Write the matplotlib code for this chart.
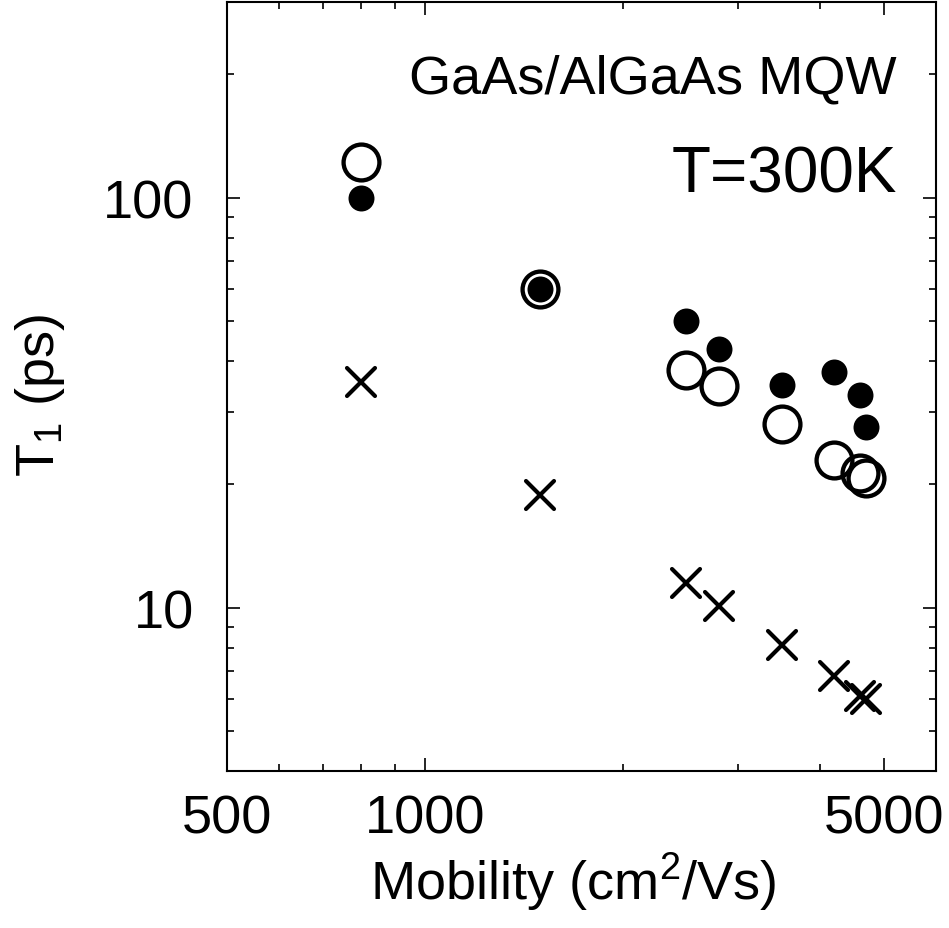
import matplotlib
matplotlib.use("Agg")
import matplotlib.pyplot as plt
from matplotlib.markers import MarkerStyle
from matplotlib.ticker import LogLocator, NullFormatter

plt.rcParams['font.family'] = ['Liberation Sans', 'DejaVu Sans']
plt.rcParams['mathtext.fontset'] = 'custom'
plt.rcParams['mathtext.rm'] = 'Liberation Sans'
plt.rcParams['mathtext.it'] = 'Liberation Sans:italic'

# Data
mobility = [800, 1500, 2500, 2800, 3500, 4200, 4600, 4700]
t1_filled = [100, 60, 50, 42.7, 35, 37.6, 33.1, 27.6]
t1_open = [122, 60, 38, 34.8, 28.1, 22.9, 21.3, 20.7]
t1_cross = [35.6, 18.9, 11.5, 10.1, 8.13, 6.82, 6.1, 5.98]

x_major = [500, 1000, 5000]
x_major_labels = ['500', '1000', '5000']
x_minor = [600, 700, 800, 900, 2000, 3000, 4000]
y_major = [10, 100]
y_major_labels = ['10', '100']

fig = plt.figure(figsize=(9.49, 9.29), dpi=100)
W, H = 949, 929
ax = fig.add_axes([227 / W, 1 - 772 / H, (936 - 227) / W, (772 - 3.3) / H])
ax.set_xscale('log')
ax.set_yscale('log')
ax.set_xlim(500, 6000)
ax.set_ylim(4, 300)

ax.plot(mobility, t1_filled, linestyle='none', marker='o', ms=18.7, mfc='black',
        mec='black', mew=0, zorder=3)
ax.plot(mobility, t1_open, linestyle='none', marker='o', ms=25.8, mfc='none',
        mec='black', mew=3.1, zorder=4)
xm = MarkerStyle('x', capstyle='round')
ax.plot(mobility, t1_cross, linestyle='none', marker=xm, ms=20.5,
        mec='black', mew=3.0, zorder=3)

ax.set_xticks(x_major)
ax.set_xticklabels(x_major_labels)
ax.set_xticks(x_minor, minor=True)
ax.set_xticklabels([], minor=True)
ax.set_yticks(y_major)
ax.set_yticklabels(y_major_labels)
ax.yaxis.set_minor_locator(LogLocator(base=10, subs=range(2, 10)))
ax.yaxis.set_minor_formatter(NullFormatter())

for s in ax.spines.values():
    s.set_linewidth(1.5)
ax.tick_params(which='both', direction='in', top=True, right=True, width=1.2)
ax.tick_params(which='major', length=9.4, labelsize=39)
ax.tick_params(which='minor', length=5)
ax.tick_params(axis='x', which='major', pad=16)
ax.tick_params(axis='y', which='major', pad=24)

fig.text(573 / W, 1 - 900 / H, r'Mobility (cm$\mathregular{^2}$/Vs)', fontsize=39,
         ha='center', va='baseline')
fig.text(40 / W, 1 - 396 / H, r'T$\mathregular{_1}$ (ps)', fontsize=39,
         ha='center', va='center', rotation=90)

ax.text((897 - 227) / (936 - 227), 1 - (93.4 - 3.3) / (772 - 3.3),
        'GaAs/AlGaAs MQW', transform=ax.transAxes, fontsize=39,
        ha='right', va='baseline')
ax.text((897 - 227) / (936 - 227), 1 - (192.7 - 3.3) / (772 - 3.3),
        'T=300K', transform=ax.transAxes, fontsize=46,
        ha='right', va='baseline')

fig.savefig('out.png', dpi=100)
